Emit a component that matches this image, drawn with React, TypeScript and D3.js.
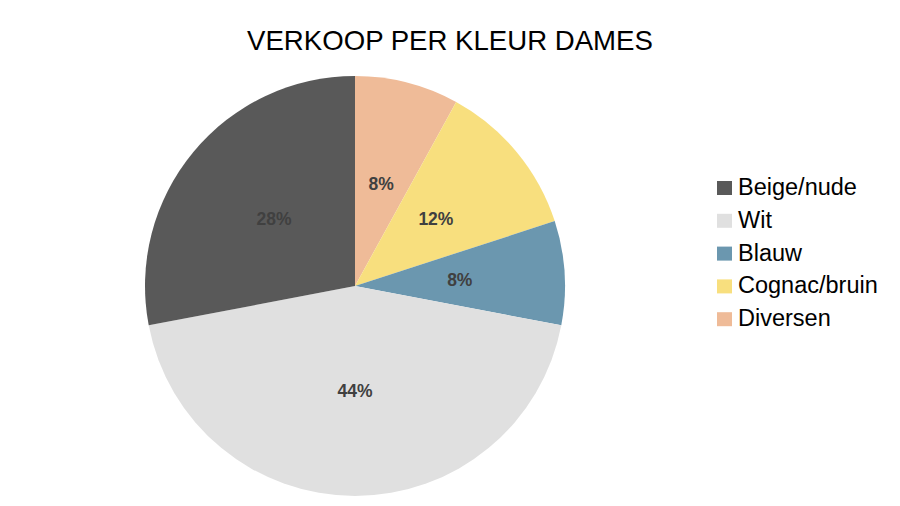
import React from 'react';
import * as d3 from 'd3';

const categories = ['Beige/nude', 'Wit', 'Blauw', 'Cognac/bruin', 'Diversen'];
const values = [28, 44, 8, 12, 8];
const colors = ['#595959', '#e0e0e0', '#6b97af', '#f8df7e', '#efbb98'];

const width = 900;
const height = 506;
const cx = 355;
const cy = 286;
const radius = 210;

export default function App() {
  const data = categories.map((name, i) => ({ name, value: values[i], color: colors[i] }));
  // Excel draws clockwise from 12 o'clock with the last series first here
  const pie = d3.pie<any>().sort(null).value(d => d.value);
  const arcs = pie([...data].reverse());
  const arc = d3.arc<any>().innerRadius(0).outerRadius(radius);
  const labelArc = d3.arc<any>().innerRadius(radius * 0.5).outerRadius(radius * 0.5);
  const total = d3.sum(values);

  return (
    <svg width={width} height={height} style={{ position: 'absolute', left: 0, top: 0, background: '#fff' }}
      fontFamily="'Liberation Sans', Arial, sans-serif">
      <text x={450} y={50} textAnchor="middle" fontSize={27.6} fill="#000">VERKOOP PER KLEUR DAMES</text>
      <g transform={`translate(${cx},${cy})`}>
        {arcs.map(a => (
          <path key={a.data.name} d={arc(a) as string} fill={a.data.color} />
        ))}
        {arcs.map(a => {
          const [x, y] = labelArc.centroid(a);
          return (
            <text key={a.data.name} x={x} y={y} dy="0.35em" textAnchor="middle"
              fontSize={17.5} fontWeight="bold" fill="#404040">
              {d3.format('.0%')(a.data.value / total)}
            </text>
          );
        })}
      </g>
      <g transform="translate(717,0)">
        {data.map((d, i) => (
          <g key={d.name} transform={`translate(0,${195 + i * 32.8})`}>
            <rect x={0} y={-14} width={15} height={14} fill={d.color} />
            <text x={21} y={0} fontSize={23.5} fill="#000">{d.name}</text>
          </g>
        ))}
      </g>
    </svg>
  );
}
